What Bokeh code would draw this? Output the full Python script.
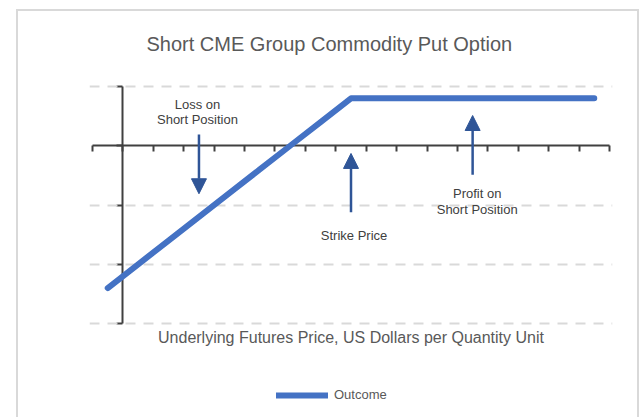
from bokeh.plotting import figure
from bokeh.models import (LinearAxis, Grid, FixedTicker, Arrow, NormalHead, ColumnDataSource,
                          Legend, LegendItem, InlineStyleSheet)
from bokeh.core.properties import value
from bokeh.embed import file_html
from bokeh.resources import INLINE

# ---- data ----
title_text = "Short CME Group Commodity Put Option"
x_title = "Underlying Futures Price, US Dollars per Quantity Unit"
y_title = "Profit / Loss per Contract"
series_name = "Outcome"

price_points = list(range(17))
outcome = [-2.4, -2.0, -1.6, -1.2, -0.8, -0.4, 0.0, 0.4, 0.8, 0.8,
           0.8, 0.8, 0.8, 0.8, 0.8, 0.8, 0.8]
y_ticks = [-3, -2, -1, 0, 1]
grid_ticks = [-3, -2, -1, 1]
x_ticks = [i - 0.5 for i in range(18)]

note_lines = ["Loss on", "Short Position", "Strike Price", "Profit on", "Short Position"]
note_x = [2.95, 2.95, 8.1, 12.15, 12.15]
note_y = [0.70, 0.44, -1.51, -0.81, -1.07]

arrow_x = [3, 8, 12]
arrow_y_start = [0.19, -1.12, -0.49]
arrow_y_end = [-0.81, -0.13, 0.51]

FONT = "Liberation Sans"
AXIS_COLOR = "#404040"
TEXT_COLOR = "#595959"

border_css = InlineStyleSheet(css="""
:host::after {
  content: "";
  position: absolute;
  left: 16px; top: 9px; width: 623px; height: 430px;
  border: 2px solid #D9D9D9;
  box-sizing: border-box;
  pointer-events: none;
}
""")

# plot area spans -3.05..1.05 for the chart itself; the lower part of the frame
# holds the axis title and the legend
p = figure(frame_width=523, frame_height=329, x_range=(-0.6, 16.6), y_range=(-4.5, 1.05),
           x_axis_type=None, y_axis_type=None, output_backend="svg",
           toolbar_location=None, min_border_left=89, min_border_right=28,
           min_border_top=83, min_border_bottom=5, outline_line_color=None,
           stylesheets=[border_css])

p.title.text = title_text
p.title.align = "left"
p.title.vertical_align = "middle"
p.title.offset = 57
p.title.standoff = 56
p.title.text_font = FONT
p.title.text_font_size = "20px"
p.title.text_font_style = "normal"
p.title.text_color = TEXT_COLOR

grid = Grid(dimension=1, ticker=FixedTicker(ticks=grid_ticks), grid_line_color="#D9D9D9",
            grid_line_width=2, grid_line_dash="10 8")
p.add_layout(grid)

axis_style = dict(major_label_standoff=0,
                  major_tick_in=0, major_tick_out=6, minor_tick_in=0, minor_tick_out=0,
                  axis_line_color=AXIS_COLOR, axis_line_width=2,
                  major_tick_line_color=AXIS_COLOR, major_tick_line_width=2,
                  level="underlay")
xaxis = LinearAxis(fixed_location=0, ticker=FixedTicker(ticks=x_ticks), bounds=(-0.5, 16.5),
                   major_label_overrides={t: "" for t in x_ticks}, **axis_style)
yaxis = LinearAxis(fixed_location=0.5, ticker=FixedTicker(ticks=y_ticks), bounds=(-3, 1),
                   major_label_overrides={t: "" for t in y_ticks}, **axis_style)
p.add_layout(xaxis, "below")
p.add_layout(yaxis, "left")

title_axis_style = dict(ticker=FixedTicker(ticks=[]), axis_line_color=None,
                        major_tick_line_color=None, minor_tick_line_color=None,
                        major_label_standoff=0,
                        major_tick_in=0, major_tick_out=0, minor_tick_in=0, minor_tick_out=0,
                        axis_label_text_font=FONT,
                        axis_label_text_font_style="normal", axis_label_text_color=TEXT_COLOR)
xt = LinearAxis(axis_label=x_title, axis_label_standoff=2, fixed_location=-3.05,
                bounds=(-0.6, 16.6), axis_label_text_font_size="16px", **title_axis_style)
yt = LinearAxis(axis_label=y_title, axis_label_standoff=20, fixed_location=-0.6,
                bounds=(-3.05, 1.05), axis_label_text_font_size="17px", **title_axis_style)
p.add_layout(xt, "below")
p.add_layout(yt, "left")

line_r = p.line(price_points, outcome, line_color="#4472C4", line_width=6,
                line_cap="round", line_join="round")

arrow_src = ColumnDataSource(dict(x0=arrow_x, y0=arrow_y_start, x1=arrow_x, y1=arrow_y_end))
p.add_layout(Arrow(source=arrow_src, x_start="x0", y_start="y0", x_end="x1", y_end="y1",
                   line_color="#2F5597", line_width=2.5,
                   end=NormalHead(size=15, fill_color="#2F5597", line_color="#2F5597",
                                  line_width=1)))

p.text(x=note_x, y=note_y, text=note_lines, text_font=value(FONT),
       text_font_size="13px", text_color=AXIS_COLOR, text_align="center",
       text_baseline="middle")

legend = Legend(items=[LegendItem(label=series_name, renderers=[line_r])],
                location=(187, 10), orientation="horizontal", border_line_color=None,
                background_fill_alpha=0, glyph_width=52, glyph_height=14, padding=0,
                margin=0, label_text_font=FONT,
                label_text_font_size="13px", label_text_color=TEXT_COLOR,
                label_standoff=6)
p.add_layout(legend)

open("out.html", "w").write(file_html(p, INLINE))
